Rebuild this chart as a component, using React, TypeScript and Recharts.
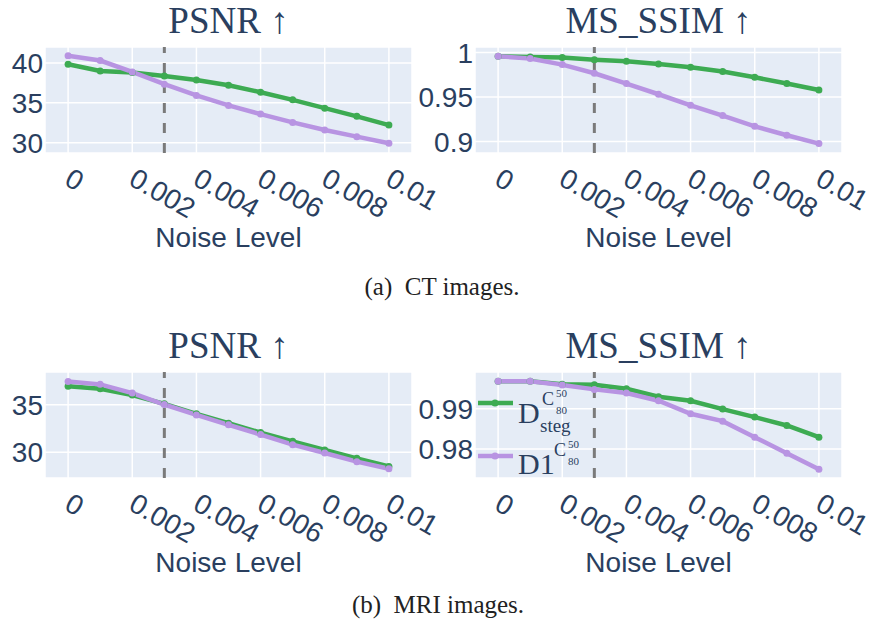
import { LineChart, Line, XAxis, YAxis, CartesianGrid, ReferenceLine, Legend } from 'recharts'

// noise levels on the x axis
const noiseLevels = [0, 0.001, 0.002, 0.003, 0.004, 0.005, 0.006, 0.007, 0.008, 0.009, 0.01]
const xTicks = [0, 0.002, 0.004, 0.006, 0.008, 0.01]

// (a) CT images
const ctPsnrSteg = [39.83, 39.0, 38.8, 38.37, 37.87, 37.2, 36.33, 35.37, 34.33, 33.3, 32.2]
const ctPsnrD1 = [40.9, 40.3, 38.87, 37.33, 35.92, 34.67, 33.58, 32.54, 31.58, 30.75, 29.92]
const ctSsimSteg = [0.9959, 0.9951, 0.9944, 0.9921, 0.9903, 0.9873, 0.9835, 0.9787, 0.9723, 0.9652, 0.958]
const ctSsimD1 = [0.9959, 0.9933, 0.9865, 0.9768, 0.9652, 0.9532, 0.9408, 0.9292, 0.9172, 0.9071, 0.8978]

// (b) MRI images
const mriPsnrSteg = [36.94, 36.69, 36.02, 35.1, 34.05, 33.06, 32.08, 31.16, 30.25, 29.37, 28.52]
const mriPsnrD1 = [37.46, 37.15, 36.23, 35.03, 33.94, 32.89, 31.87, 30.81, 29.93, 29.02, 28.28]
const mriSsimSteg = [0.99683, 0.99683, 0.99608, 0.996, 0.995, 0.993, 0.992, 0.98992, 0.98792, 0.98583, 0.98292]
const mriSsimD1 = [0.99683, 0.99683, 0.99592, 0.99483, 0.99392, 0.992, 0.98875, 0.98692, 0.98292, 0.97892, 0.97492]

const ctPsnrTicks = [30, 35, 40]
const ctSsimTicks = [0.9, 0.95, 1]
const mriPsnrTicks = [30, 35]
const mriSsimTicks = [0.98, 0.99]

const INK = '#2a3f5f'
const GREEN = '#3dab52'
const PURPLE = '#b894e2'
const SANS = '"Liberation Sans", Arial, sans-serif'
const SERIF = '"Liberation Serif", "Times New Roman", serif'

function XTick({ x, y, payload }: any) {
  const tx = x - 5
  const ty = y + 31
  return (
    <text x={tx} y={ty} transform={`rotate(30, ${tx}, ${ty})`} fill={INK} fontSize={28} fontFamily={SANS} textAnchor="start">
      {String(payload.value)}
    </text>
  )
}

function NoiseLabel(props: any) {
  const vb = props.viewBox || {}
  return (
    <text x={vb.x + vb.width / 2} y={vb.y + 94} fill={INK} fontSize={28} fontFamily={SANS} textAnchor="middle">
      Noise Level
    </text>
  )
}

function LegendContent() {
  return (
    <svg width={200} height={110} style={{ overflow: 'visible' }}>
      <line x1={8} y1={18} x2={43} y2={18} stroke={GREEN} strokeWidth={4.5} />
      <circle cx={25} cy={18} r={3.5} fill={GREEN} />
      <g fill={INK} fontFamily={SERIF}>
        <text x={48} y={38} fontSize={30}>D</text>
        <text x={72} y={20} fontSize={18}>C</text>
        <text x={86} y={12} fontSize={11}>50</text>
        <text x={86} y={29} fontSize={11}>80</text>
        <text x={70} y={47} fontSize={19}>steg</text>
      </g>
      <line x1={8} y1={71} x2={43} y2={71} stroke={PURPLE} strokeWidth={4.5} />
      <circle cx={25} cy={71} r={3.5} fill={PURPLE} />
      <g fill={INK} fontFamily={SERIF}>
        <text x={48} y={89} fontSize={30}>D1</text>
        <text x={84} y={71} fontSize={18}>C</text>
        <text x={98} y={63} fontSize={11}>50</text>
        <text x={98} y={80} fontSize={11}>80</text>
      </g>
    </svg>
  )
}

type PanelProps = {
  left: number
  top: number
  steg: number[]
  d1: number[]
  domain: [number, number]
  yTicks: number[]
  legend?: boolean
}

function Panel({ left, top, steg, d1, domain, yTicks, legend }: PanelProps) {
  const data = noiseLevels.map((n, i) => ({ noise: n, steg: steg[i], d1: d1[i] }))
  const isLeft = left === 0
  return (
    <div style={{ position: 'absolute', left, top }}>
      <LineChart
        width={isLeft ? 460 : 473}
        height={258}
        data={data}
        margin={{ top: 47, right: isLeft ? 48 : 31, bottom: 5, left: isLeft ? 0 : 30 }}
      >
        <CartesianGrid fill="#e5ecf6" stroke="#ffffff" strokeWidth={1.5} />
        <XAxis
          dataKey="noise"
          type="number"
          domain={[-0.00072, 0.01072]}
          ticks={xTicks}
          allowDataOverflow
          axisLine={false}
          tickLine={false}
          tickSize={0}
          tickMargin={0}
          height={100}
          tick={<XTick />}
          interval={0}
          label={<NoiseLabel />}
        />
        <YAxis
          type="number"
          domain={domain}
          ticks={yTicks}
          allowDataOverflow
          axisLine={false}
          tickLine={false}
          tickSize={0}
          tickMargin={2}
          width={45}
          interval={0}
          tick={{ fill: INK, fontSize: 28, fontFamily: SANS }}
        />
        <Line dataKey="steg" stroke={GREEN} strokeWidth={4.5} dot={{ r: 3.5, fill: GREEN, stroke: GREEN, strokeWidth: 0 }} isAnimationActive={false} />
        <Line dataKey="d1" stroke={PURPLE} strokeWidth={4.5} dot={{ r: 3.5, fill: PURPLE, stroke: PURPLE, strokeWidth: 0 }} isAnimationActive={false} />
        <ReferenceLine x={0.003} stroke="#7a7a7a" strokeWidth={3} strokeDasharray="10 10" />
        {legend && (
          <Legend
            layout="vertical"
            align="center"
            verticalAlign="middle"
            content={<LegendContent />}
            wrapperStyle={{ left: 70, top: 60, width: 200, height: 110 }}
          />
        )}
      </LineChart>
    </div>
  )
}

export default function App() {
  return (
    <div style={{ position: 'absolute', left: 0, top: 0, width: 873, height: 627, background: '#fff' }}>
      <Panel left={0} top={0} steg={ctPsnrSteg} d1={ctPsnrD1} domain={[28.7, 42]} yTicks={ctPsnrTicks} />
      <Panel left={400} top={0} steg={ctSsimSteg} d1={ctSsimD1} domain={[0.8872, 1.0063]} yTicks={ctSsimTicks} />
      <Panel left={0} top={325} steg={mriPsnrSteg} d1={mriPsnrD1} domain={[27.3, 38.45]} yTicks={mriPsnrTicks} />
      <Panel left={400} top={325} steg={mriSsimSteg} d1={mriSsimD1} domain={[0.97275, 0.99916]} yTicks={mriSsimTicks} legend />
      <svg width={873} height={627} style={{ position: 'absolute', left: 0, top: 0, pointerEvents: 'none' }}>
        <g fill={INK} fontFamily={SERIF} fontSize={37} textAnchor="middle">
          <text x={228.5} y={33}>PSNR ↑</text>
          <text x={658.5} y={33}>MS_SSIM ↑</text>
          <text x={228.5} y={358}>PSNR ↑</text>
          <text x={658.5} y={358}>MS_SSIM ↑</text>
        </g>
        <g fill="#222" fontFamily={SERIF} fontSize={25} textAnchor="middle">
          <text x={442} y={295} xmlSpace="preserve">(a)  CT images.</text>
          <text x={438} y={613} xmlSpace="preserve">(b)  MRI images.</text>
        </g>
      </svg>
    </div>
  )
}
